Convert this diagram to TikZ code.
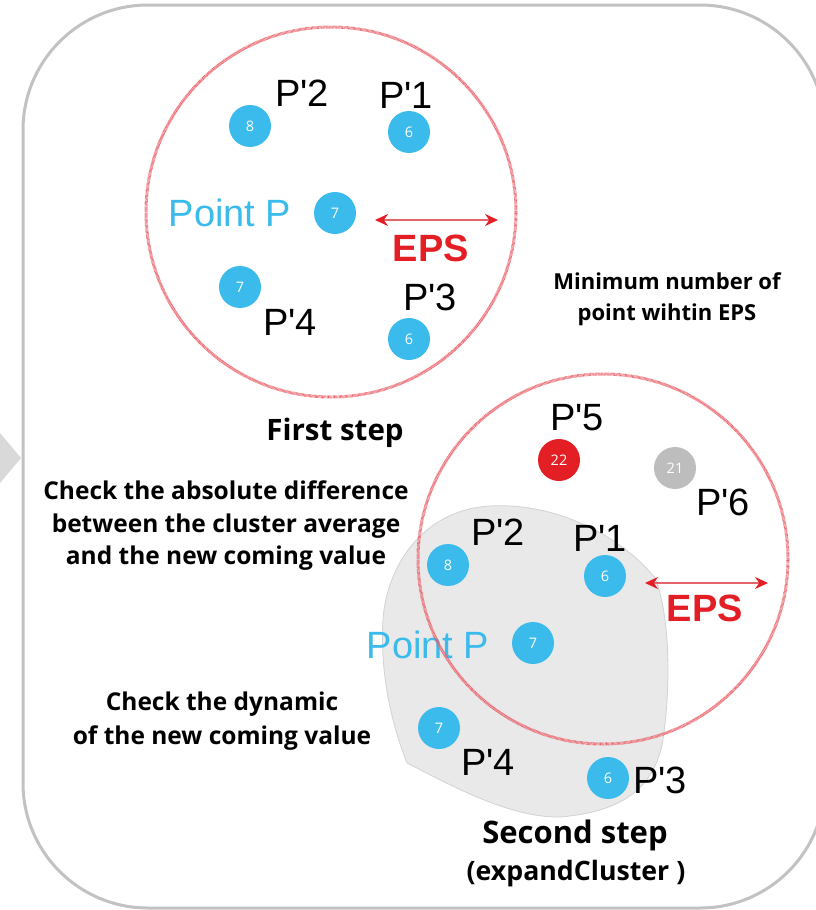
\documentclass[tikz,border=0pt]{standalone}
\usepackage{fontspec}
\setmainfont{Liberation Sans}
\newfontfamily\opensans{Open Sans}
\usetikzlibrary{arrows.meta}
\newcommand{\apo}{\textquotesingle}
\definecolor{dotblue}{HTML}{3BBBEB}
\definecolor{dotred}{HTML}{E31E24}
\definecolor{dotgray}{HTML}{BDBDBD}
\definecolor{epsred}{HTML}{E31E24}
\definecolor{arrowline}{HTML}{E4646B}
\definecolor{ringred}{HTML}{EA6068}
\definecolor{framegray}{HTML}{C2C2C2}
\definecolor{blobgray}{HTML}{E9E9E9}
\definecolor{blobline}{HTML}{D2D2D2}
\definecolor{tipgray}{HTML}{D9D9D9}
\tikzset{
  dot/.style={circle, fill=dotblue, minimum size=42pt, inner sep=0pt, text=white,
    font=\opensans\fontsize{14.5}{14.5}\selectfont},
  reddot/.style={dot, fill=dotred},
  graydot/.style={dot, fill=dotgray},
  plabel/.style={font=\fontsize{38}{40}\selectfont, text=black, inner sep=0pt},
  bluelabel/.style={plabel, text=dotblue},
  epslabel/.style={font=\bfseries\fontsize{38}{40}\selectfont, text=epsred, inner sep=0pt},
  ring/.style={draw=ringred, line width=3pt, dash pattern=on 0.6pt off 0.6pt},
  epsarrow/.style={draw=arrowline, line width=2pt,
    {Stealth[length=13pt,width=12pt,color=epsred]}-{Stealth[length=13pt,width=12pt,color=epsred]}},
  note/.style={font=\opensans\bfseries\fontsize{24.5}{32.5}\selectfont, align=center, inner sep=0pt},
  minnote/.style={font=\opensans\bfseries\fontsize{22}{31}\selectfont, align=center, inner sep=0pt},
  dynnote/.style={font=\opensans\bfseries\fontsize{24.5}{34}\selectfont, align=center, inner sep=0pt},
  stepnote/.style={font=\opensans\bfseries\fontsize{29.5}{34}\selectfont, align=center, inner sep=0pt},
  secondnote/.style={font=\opensans\bfseries\fontsize{31}{34}\selectfont, align=center, inner sep=0pt},
  subnote/.style={font=\opensans\bfseries\fontsize{26.7}{30}\selectfont, align=center, inner sep=0pt},
  frame/.style={draw=framegray, line width=3pt, rounded corners=125pt},
  blob/.style={fill=blobgray, draw=blobline, line width=0.8pt},
}
\begin{document}
\begin{tikzpicture}[x=1pt,y=-1pt]
\useasboundingbox[fill=white] (0,0) rectangle (816,910);
% outer frame and side arrow tip
\draw[frame] (23,5) rectangle (825,908);
\fill[tipgray] (0,433) -- (21,458) -- (0,483) -- cycle;

% ---------- first step ----------
\draw[ring] (331,212) circle[radius=185];
\node[dot] (a8) at (250,126) {8};
\node[dot] (a1) at (409,132) {6};
\node[dot] (ap) at (335,213) {7};
\node[dot] (a4) at (240,287) {7};
\node[dot] (a3) at (409,339) {6};
\node[plabel] (la2) at (302,93) {P\apo2};
\node[plabel] (la1) at (406,95) {P\apo1};
\node[bluelabel] (lap) at (230,213) {Point P};
\node[plabel] (la4) at (290,322) {P\apo4};
\node[plabel] (la3) at (430,297) {P\apo3};
\coordinate (e1a) at (375,220);
\coordinate (e1b) at (498,220);
\draw[epsarrow] (e1a) -- (e1b);
\node[epslabel] (eps1) at (431,248) {EPS};
\node[minnote] (minpts) at (667,299) {Minimum number of\\point wihtin EPS};
\node[stepnote] (first) at (335,433) {First step};

% ---------- second step ----------
\path[blob] (407,763) .. controls (390,720) and (380,670) .. (383,620)
  .. controls (386,570) and (420,510) .. (490,506)
  .. controls (560,502) and (625,540) .. (655,578)
  .. controls (672,620) and (670,700) .. (662,745)
  .. controls (652,790) and (620,812) .. (560,817)
  .. controls (510,818) and (450,785) .. (407,763) -- cycle;
\node[bluelabel] (lbp) at (428,645) {Point P};
\draw[ring] (603,559) circle[radius=185];
\node[reddot] (b5) at (559,460) {22};
\node[graydot] (b6) at (675,468) {21};
\node[dot] (b8) at (448,565) {8};
\node[dot] (b1) at (605,576) {6};
\node[dot] (bp) at (533,643) {7};
\node[dot] (b4) at (439,728) {7};
\node[dot] (b3) at (608,778) {6};
\node[plabel] (lb5) at (577,418) {P\apo5};
\node[plabel] (lb6) at (723,502) {P\apo6};
\node[plabel] (lb2) at (498,532) {P\apo2};
\node[plabel] (lb1) at (600,538) {P\apo1};
\node[plabel] (lb4) at (488,762) {P\apo4};
\node[plabel] (lb3) at (660,780) {P\apo3};
\coordinate (e2a) at (645,583);
\coordinate (e2b) at (768,583);
\draw[epsarrow] (e2a) -- (e2b);
\node[epslabel] (eps2) at (705,608) {EPS};

\node[note] (absdiff) at (226,526) {Check the absolute difference\\between the cluster average\\and the new coming value};
\node[dynnote] (dyn) at (222,721) {Check the dynamic\\of the new coming value};
\node[secondnote] (second) at (575,835) {Second step};
\node[subnote] (expand) at (576,874) {(expandCluster )};
\end{tikzpicture}
\end{document}
